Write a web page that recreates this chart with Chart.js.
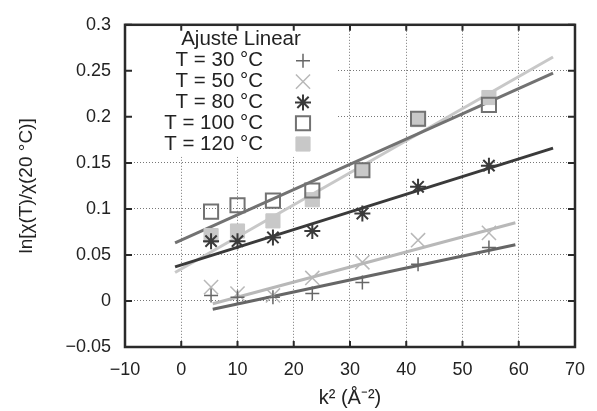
<!DOCTYPE html>
<html lang="pt">
<head>
    <meta charset="UTF-8">
    <script src="https://cdn.jsdelivr.net/npm/chart.js"></script>
    <title>Ajuste Linear</title>
    <style>
        html, body { margin: 0; padding: 0; background: #fff; }
        .chart-box { width: 597px; height: 411px; }
    </style>
</head>
<body>
<div class="chart-box">
    <canvas id="fitChart" width="597" height="411"></canvas>
</div>

<script>
    // k^2 values (Å^-2) and ln[chi(T)/chi(20 °C)] per temperature
    const k2 = [5.3, 10.0, 16.3, 23.3, 32.2, 42.1, 54.7];
    const t30 = [0.006, 0.004, 0.004, 0.008, 0.020, 0.040, 0.058];
    const t50 = [0.015, 0.008, 0.006, 0.025, 0.042, 0.066, 0.074];
    const t80 = [0.065, 0.065, 0.069, 0.076, 0.095, 0.124, 0.147];
    const t100 = [0.097, 0.104, 0.109, 0.120, 0.142, 0.198, 0.213];
    const t120 = [0.071, 0.076, 0.087, 0.110, 0.142, 0.197, 0.221];

    // linear fits (end points)
    const fitXLow = [5.6, 59.4];
    const fitXHigh = [-1.1, 66.1];
    const fit30 = [-0.009, 0.061];
    const fit50 = [-0.003, 0.085];
    const fit80 = [0.037, 0.166];
    const fit100 = [0.063, 0.2475];
    const fit120 = [0.031, 0.265];

    const labels = ['T = 30 °C', 'T = 50 °C', 'T = 80 °C', 'T = 100 °C', 'T = 120 °C'];
    const xTicks = [-10, 0, 10, 20, 30, 40, 50, 60, 70];
    const yTicks = [-0.05, 0, 0.05, 0.1, 0.15, 0.2, 0.25, 0.3];

    const colors = ['#666666', '#b8b8b8', '#3a3a3a', '#727272', '#c8c8c8'];
    const FONT = '"Liberation Sans", Arial, sans-serif';

    const pts = (xs, ys) => xs.map((x, i) => ({ x: x, y: ys[i] }));

    function fitSet(xs, ys, color) {
        return {
            type: 'line', data: pts(xs, ys), borderColor: color, borderWidth: 3,
            pointRadius: 0, fill: false, tension: 0, order: 2
        };
    }
    function markSet(label, ys, style, color, radius, fillColor, bw) {
        return {
            type: 'scatter', label: label, data: pts(k2, ys), showLine: false,
            pointStyle: style, pointRadius: radius, pointHoverRadius: radius,
            borderColor: color, backgroundColor: fillColor, pointBorderWidth: bw, order: 1
        };
    }

    const datasets = [
        fitSet(fitXLow, fit30, colors[0]),
        fitSet(fitXLow, fit50, colors[1]),
        fitSet(fitXHigh, fit80, colors[2]),
        fitSet(fitXHigh, fit100, colors[3]),
        fitSet(fitXHigh, fit120, colors[4]),
        markSet(labels[0], t30, 'cross', colors[0], 7, colors[0], 1.5),
        markSet(labels[1], t50, 'crossRot', colors[1], 10, colors[1], 1.5),
        markSet(labels[2], t80, 'star', colors[2], 8, colors[2], 2),
        markSet(labels[3], t100, 'rect', colors[3], 10, 'rgba(0,0,0,0)', 2),
        markSet(labels[4], t120, 'rect', colors[4], 10, colors[4], 1)
    ];

    // legend box (gnuplot style, text right aligned with marker on the right)
    const legendPlugin = {
        id: 'gpLegend',
        beforeDatasetsDraw(chart) {
            const c = chart.ctx;
            const a = chart.chartArea;
            c.save();
            c.fillStyle = '#fff';
            c.fillRect(a.left + 1, a.top + 1, 210, 131);
            c.fillStyle = '#222';
            c.font = '20.5px ' + FONT;
            c.textBaseline = 'middle';
            c.textAlign = 'center';
            c.fillText('Ajuste Linear', a.left + 116, a.top + 15);
            c.textAlign = 'right';
            const markers = datasets.slice(5);
            markers.forEach((ds, i) => {
                const y = a.top + 36 + i * 20.8;
                c.fillStyle = '#222';
                c.fillText(ds.label, a.left + 138, y);
                drawMarker(c, ds, a.left + 178, y);
            });
            c.restore();
        },
        afterDraw(chart) {
            const c = chart.ctx;
            const a = chart.chartArea;
            const xs = chart.scales.x, ys = chart.scales.y;
            c.save();
            c.strokeStyle = '#2a2a2a';
            c.lineWidth = 2;
            c.beginPath();
            xTicks.forEach(v => {
                const px = xs.getPixelForValue(v);
                c.moveTo(px, a.bottom); c.lineTo(px, a.bottom - 6);
                c.moveTo(px, a.top); c.lineTo(px, a.top + 6);
            });
            yTicks.forEach(v => {
                const py = ys.getPixelForValue(v);
                c.moveTo(a.left, py); c.lineTo(a.left + 7, py);
                c.moveTo(a.right, py); c.lineTo(a.right - 7, py);
            });
            c.stroke();
            c.lineWidth = 2.5;
            c.strokeRect(a.left, a.top, a.right - a.left, a.bottom - a.top);
            c.restore();
        }
    };

    function drawMarker(c, ds, x, y) {
        const r = ds.pointRadius;
        c.save();
        c.strokeStyle = ds.borderColor;
        c.fillStyle = ds.backgroundColor;
        c.lineWidth = ds.pointBorderWidth;
        c.beginPath();
        if (ds.pointStyle === 'cross' || ds.pointStyle === 'star') {
            c.moveTo(x - r, y); c.lineTo(x + r, y);
            c.moveTo(x, y - r); c.lineTo(x, y + r);
        }
        if (ds.pointStyle === 'crossRot' || ds.pointStyle === 'star') {
            const d = r * Math.SQRT1_2;
            c.moveTo(x - d, y - d); c.lineTo(x + d, y + d);
            c.moveTo(x - d, y + d); c.lineTo(x + d, y - d);
        }
        if (ds.pointStyle === 'rect') {
            const s = r * Math.SQRT1_2;
            c.rect(x - s, y - s, 2 * s, 2 * s);
            c.fill();
        }
        c.stroke();
        c.restore();
    }

    const fmt = v => {
        const s = String(Math.round(v * 100) / 100);
        return s.replace('-', '\u2212');
    };

    const gridOpts = { color: '#777', lineWidth: 1, drawTicks: false, tickLength: 0 };
    const borderOpts = { display: true, width: 0, color: 'rgba(0,0,0,0)', dash: [1, 2] };

    const ctx = document.getElementById('fitChart').getContext('2d');
    new Chart(ctx, {
        data: { datasets: datasets },
        options: {
            responsive: false,
            animation: false,
            layout: { padding: { top: 21, right: 14, left: 0, bottom: 0 } },
            plugins: {
                legend: { display: false },
                tooltip: { enabled: false }
            },
            scales: {
                x: {
                    type: 'linear', min: -10, max: 70,
                    afterBuildTicks: s => { s.ticks = xTicks.map(v => ({ value: v })); },
                    afterFit: s => { s.height = 64; },
                    ticks: { callback: fmt, color: '#222', padding: 12, maxRotation: 0,
                        font: { family: FONT, size: 18 } },
                    grid: gridOpts,
                    border: borderOpts,
                    title: { display: true, text: 'k\u00b2 (\u00c5\u207b\u00b2)', color: '#222',
                        font: { family: FONT, size: 20 }, padding: { top: 0, bottom: 1 } }
                },
                y: {
                    type: 'linear', min: -0.05, max: 0.3,
                    afterBuildTicks: s => { s.ticks = yTicks.map(v => ({ value: v })); },
                    afterFit: s => { s.width = 125; },
                    ticks: { callback: fmt, color: '#222', padding: 14,
                        font: { family: FONT, size: 18 } },
                    grid: gridOpts,
                    border: borderOpts,
                    title: { display: true, text: 'ln[\u03c7(T)/\u03c7(20 \u00b0C)]', color: '#222',
                        font: { family: FONT, size: 19 }, padding: { top: 15, bottom: 0 } }
                }
            }
        },
        plugins: [legendPlugin]
    });
</script>
</body>
</html>
